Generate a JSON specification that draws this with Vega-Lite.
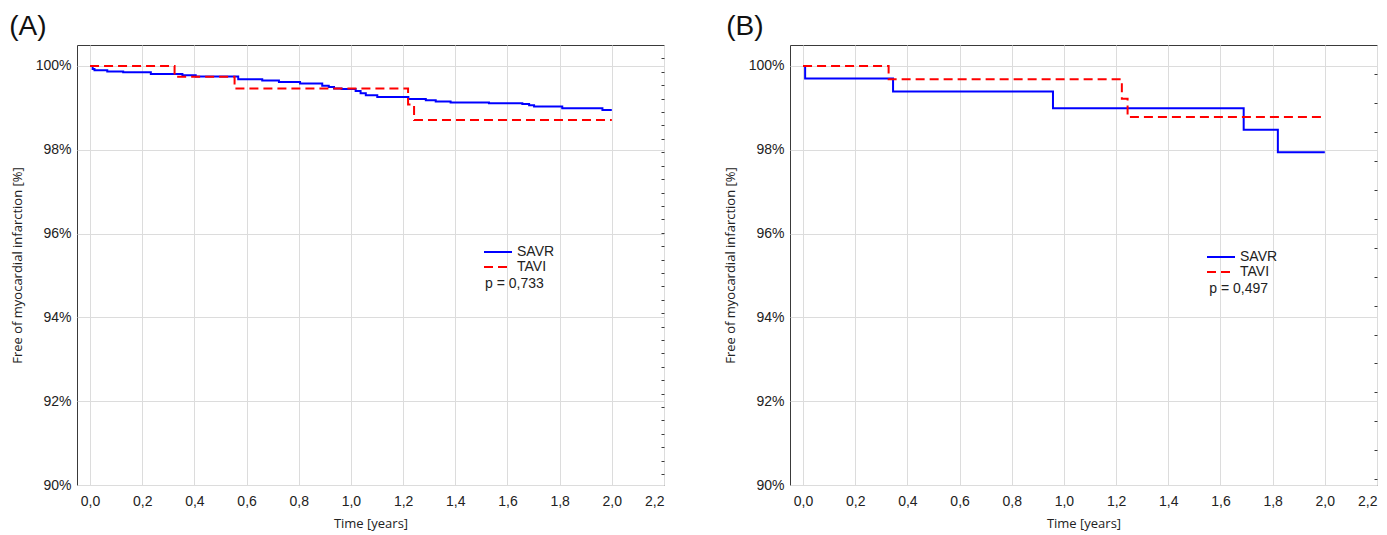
{
  "$schema": "https://vega.github.io/schema/vega-lite/v6.json",
  "padding": {"left": 8, "top": 12, "right": 5, "bottom": 5},
  "background": "white",
  "datasets": {
    "a": [
      {"time": 0, "surv": 100, "group": "SAVR"},
      {"time": 0.01, "surv": 99.93, "group": "SAVR"},
      {"time": 0.017, "surv": 99.9, "group": "SAVR"},
      {"time": 0.066, "surv": 99.87, "group": "SAVR"},
      {"time": 0.127, "surv": 99.85, "group": "SAVR"},
      {"time": 0.233, "surv": 99.81, "group": "SAVR"},
      {"time": 0.354, "surv": 99.78, "group": "SAVR"},
      {"time": 0.405, "surv": 99.75, "group": "SAVR"},
      {"time": 0.568, "surv": 99.68, "group": "SAVR"},
      {"time": 0.66, "surv": 99.65, "group": "SAVR"},
      {"time": 0.724, "surv": 99.62, "group": "SAVR"},
      {"time": 0.805, "surv": 99.58, "group": "SAVR"},
      {"time": 0.89, "surv": 99.53, "group": "SAVR"},
      {"time": 0.915, "surv": 99.5, "group": "SAVR"},
      {"time": 0.935, "surv": 99.46, "group": "SAVR"},
      {"time": 0.964, "surv": 99.45, "group": "SAVR"},
      {"time": 1.018, "surv": 99.4, "group": "SAVR"},
      {"time": 1.037, "surv": 99.35, "group": "SAVR"},
      {"time": 1.057, "surv": 99.3, "group": "SAVR"},
      {"time": 1.101, "surv": 99.26, "group": "SAVR"},
      {"time": 1.22, "surv": 99.21, "group": "SAVR"},
      {"time": 1.287, "surv": 99.18, "group": "SAVR"},
      {"time": 1.325, "surv": 99.15, "group": "SAVR"},
      {"time": 1.382, "surv": 99.13, "group": "SAVR"},
      {"time": 1.529, "surv": 99.11, "group": "SAVR"},
      {"time": 1.657, "surv": 99.09, "group": "SAVR"},
      {"time": 1.683, "surv": 99.06, "group": "SAVR"},
      {"time": 1.702, "surv": 99.03, "group": "SAVR"},
      {"time": 1.81, "surv": 98.99, "group": "SAVR"},
      {"time": 1.964, "surv": 98.95, "group": "SAVR"},
      {"time": 2.0, "surv": 98.95, "group": "SAVR"},
      {"time": 0, "surv": 100, "group": "TAVI"},
      {"time": 0.324, "surv": 99.74, "group": "TAVI"},
      {"time": 0.554, "surv": 99.46, "group": "TAVI"},
      {"time": 1.219, "surv": 99.08, "group": "TAVI"},
      {"time": 1.242, "surv": 98.71, "group": "TAVI"},
      {"time": 2.0, "surv": 98.71, "group": "TAVI"}
    ],
    "b": [
      {"time": 0, "surv": 100, "group": "SAVR"},
      {"time": 0.008, "surv": 99.7, "group": "SAVR"},
      {"time": 0.345, "surv": 99.39, "group": "SAVR"},
      {"time": 0.958, "surv": 98.99, "group": "SAVR"},
      {"time": 1.689, "surv": 98.48, "group": "SAVR"},
      {"time": 1.82, "surv": 97.94, "group": "SAVR"},
      {"time": 2.0, "surv": 97.94, "group": "SAVR"},
      {"time": 0, "surv": 100, "group": "TAVI"},
      {"time": 0.328, "surv": 99.68, "group": "TAVI"},
      {"time": 1.222, "surv": 99.22, "group": "TAVI"},
      {"time": 1.244, "surv": 98.78, "group": "TAVI"},
      {"time": 2.0, "surv": 98.78, "group": "TAVI"}
    ]
  },
  "config": {
    "view": {"stroke": "#3a3a3a", "strokeWidth": 1},
    "axis": {
      "labelFont": "Liberation Sans", "labelFontSize": 14, "labelColor": "#222222",
      "titleFont": "Open Sans", "titleFontSize": 13, "titleFontWeight": "normal", "titleColor": "#222222",
      "gridColor": "#dcdcdc", "gridWidth": 1, "domain": false, "ticks": false
    },
    "legend": {
      "labelFont": "Liberation Sans", "labelFontSize": 14, "labelColor": "#222222",
      "symbolType": "M-2,0H2", "symbolSize": 196, "symbolStrokeWidth": 2,
      "labelOffset": 11, "rowPadding": 0, "padding": 0
    },
    "title": {"font": "Liberation Sans", "fontSize": 28, "fontWeight": "normal", "color": "#111111", "anchor": "start", "frame": "bounds", "offset": 4}
  },
  "resolve": {"legend": {"color": "independent", "strokeDash": "independent"}},
  "spacing": 58,
  "hconcat": [
    {
      "title": {"text": "(A)", "dx": -2},
      "width": 587, "height": 440,
      "data": {"name": "a"},
      "layer": [
        {
          "mark": {"type": "line", "interpolate": "step-after", "strokeWidth": 2},
          "encoding": {
            "x": {"field": "time", "type": "quantitative",
              "scale": {"domain": [-0.05, 2.2], "nice": false, "zero": false},
              "axis": {"values": [0, 0.2, 0.4, 0.6, 0.8, 1.0, 1.2, 1.4, 1.6, 1.8, 2.0, 2.2], "labelExpr": "replace(format(datum.value, '.1f'), '.', ',')", "title": "Time [years]", "labelPadding": 9, "titlePadding": 9}},
            "y": {"field": "surv", "type": "quantitative",
              "scale": {"domain": [90, 100.5], "nice": false, "zero": false},
              "axis": {"values": [90, 92, 94, 96, 98, 100], "labelExpr": "datum.value + '%'", "title": "Free of myocardial infarction [%]", "labelPadding": 6, "titlePadding": 11}},
            "color": {"field": "group", "type": "nominal",
              "scale": {"domain": ["SAVR", "TAVI"], "range": ["#0000ff", "#ff0000"]},
              "legend": {"orient": "none", "legendX": 413, "legendY": 199, "title": null}},
            "strokeDash": {"field": "group", "type": "nominal",
              "scale": {"domain": ["SAVR", "TAVI"], "range": [[1, 0], [9, 5]]},
              "legend": {"orient": "none", "legendX": 413, "legendY": 199, "title": null}}
          }
        },
        {
          "data": {"values": [{"label": "p = 0,733"}]},
          "mark": {"type": "text", "align": "left", "baseline": "middle", "font": "Liberation Sans", "fontSize": 14, "color": "#222222"},
          "encoding": {
            "x": {"datum": 1.514, "type": "quantitative",
              "axis": {"values": [0, 0.2, 0.4, 0.6, 0.8, 1.0, 1.2, 1.4, 1.6, 1.8, 2.0, 2.2], "labelExpr": "replace(format(datum.value, '.1f'), '.', ',')", "title": "Time [years]", "labelPadding": 9, "titlePadding": 9}},
            "y": {"datum": 94.79, "type": "quantitative",
              "axis": {"orient": "right", "title": null, "labels": false, "grid": false, "ticks": true, "tickSize": -3, "tickColor": "#3a3a3a",
                "values": [100.18, 99.86, 99.54, 99.22, 98.9, 98.58, 98.26, 97.94, 97.62, 97.3, 96.98, 96.66, 96.34, 96.02, 95.7, 95.38, 95.06, 94.74, 94.42, 94.1, 93.78, 93.46, 93.14, 92.82, 92.5, 92.18, 91.86, 91.54, 91.22, 90.9, 90.58, 90.26]}},
            "text": {"field": "label"}
          }
        }
      ],
      "resolve": {"axis": {"y": "independent"}}
    },
    {
      "title": {"text": "(B)", "dx": 2},
      "width": 587, "height": 440,
      "data": {"name": "b"},
      "layer": [
        {
          "mark": {"type": "line", "interpolate": "step-after", "strokeWidth": 2},
          "encoding": {
            "x": {"field": "time", "type": "quantitative",
              "scale": {"domain": [-0.05, 2.2], "nice": false, "zero": false},
              "axis": {"values": [0, 0.2, 0.4, 0.6, 0.8, 1.0, 1.2, 1.4, 1.6, 1.8, 2.0, 2.2], "labelExpr": "replace(format(datum.value, '.1f'), '.', ',')", "title": "Time [years]", "labelPadding": 9, "titlePadding": 9}},
            "y": {"field": "surv", "type": "quantitative",
              "scale": {"domain": [90, 100.5], "nice": false, "zero": false},
              "axis": {"values": [90, 92, 94, 96, 98, 100], "labelExpr": "datum.value + '%'", "title": "Free of myocardial infarction [%]", "labelPadding": 6, "titlePadding": 11}},
            "color": {"field": "group", "type": "nominal",
              "scale": {"domain": ["SAVR", "TAVI"], "range": ["#0000ff", "#ff0000"]},
              "legend": {"orient": "none", "legendX": 423, "legendY": 204, "title": null}},
            "strokeDash": {"field": "group", "type": "nominal",
              "scale": {"domain": ["SAVR", "TAVI"], "range": [[1, 0], [9, 5]]},
              "legend": {"orient": "none", "legendX": 423, "legendY": 204, "title": null}}
          }
        },
        {
          "data": {"values": [{"label": "p = 0,497"}]},
          "mark": {"type": "text", "align": "left", "baseline": "middle", "font": "Liberation Sans", "fontSize": 14, "color": "#222222"},
          "encoding": {
            "x": {"datum": 1.557, "type": "quantitative",
              "axis": {"values": [0, 0.2, 0.4, 0.6, 0.8, 1.0, 1.2, 1.4, 1.6, 1.8, 2.0, 2.2], "labelExpr": "replace(format(datum.value, '.1f'), '.', ',')", "title": "Time [years]", "labelPadding": 9, "titlePadding": 9}},
            "y": {"datum": 94.67, "type": "quantitative",
              "axis": {"orient": "right", "title": null, "labels": false, "grid": false, "ticks": true, "tickSize": -3, "tickColor": "#3a3a3a",
                "values": [99.8, 99.11, 98.42, 97.73, 97.04, 96.35, 95.66, 94.97, 94.28, 93.59, 92.9, 92.21, 91.52, 90.83, 90.14]}},
            "text": {"field": "label"}
          }
        }
      ],
      "resolve": {"axis": {"y": "independent"}}
    }
  ]
}
